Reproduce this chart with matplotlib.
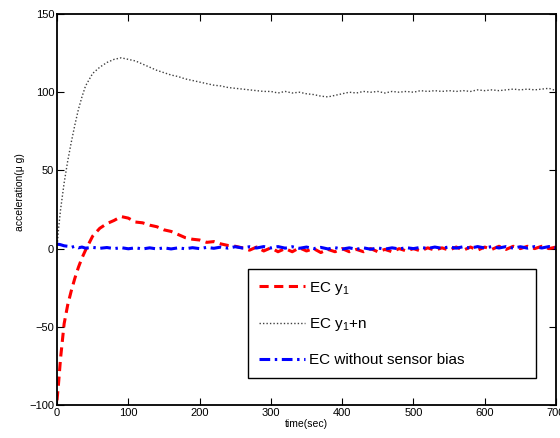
import numpy as np
import matplotlib
matplotlib.use("Agg")
import matplotlib.pyplot as plt

plt.rcParams["font.family"] = ["Liberation Sans", "DejaVu Sans"]
plt.rcParams["mathtext.fontset"] = "custom"
plt.rcParams["mathtext.rm"] = "Liberation Sans"
plt.rcParams["mathtext.it"] = "Liberation Sans"

# time axis (s): denser at the start where curves rise fast
time_sec = [0, 2, 5, 10, 15, 20, 25, 30, 35, 40] + list(range(50, 701, 10))

ec_y1 = [-97, -87, -70, -48, -36, -27, -19, -12, -6, -1,
         8, 13, 16, 18, 20.5, 19.5, 17, 16.5, 15, 14,
         12, 11, 9, 7, 6, 5.5, 4, 4.5, 3, 2,
         1.5, 0.5, -1, 1, -1.5, 0.5, -2, 0, -2, 0.5,
         -1.5, 0, -2.5, -0.5, -2, 0, -2, -0.5, -2, 0,
         -2, -0.5, -2, 0, -1.5, 0, -1.5, 0.5, -1, 0.5,
         -1, 1, -1, 1, -1, 1, -0.5, 1.5, -0.5, 1.5,
         0, 1.5, 0, 1.5, 0, 1]

ec_y1_n = [0, 12, 25, 42, 56, 68, 79, 89, 97, 104,
           112, 116, 119, 121, 122, 121, 120, 118, 116, 114,
           112.5, 111, 110, 108.5, 107.5, 106.5, 105.5, 104.5, 104, 103,
           102.5, 102, 101.5, 101, 100.5, 100.5, 99.5, 100.5, 99.5, 100,
           99, 98.5, 97.5, 97, 98, 99, 100, 99.5, 100.5, 100,
           100.5, 99.5, 100.5, 100, 100.5, 100, 101, 100.5, 101, 100.5,
           101, 100.5, 101, 100.5, 101.5, 101, 101.5, 101, 101.5, 102,
           101.5, 102, 101.5, 102, 102.5, 101]

ec_no_bias = [2.5, 2.8, 2.5, 1.8, 1.5, 0.8, 1.5, 0.5, 1.0, 0.3,
              0.8, 0.2, 0.7, 0.0, 0.6, -0.1, 0.5, -0.2, 0.5, -0.2,
              0.5, -0.2, 0.5, -0.1, 0.6, 0, 0.8, 0.2, 1.0, 0.3,
              1.2, 0.4, 1.2, 0.4, 1.3, 0.4, 1.3, 0.3, 1.2, 0.2,
              1.0, 0.0, 0.8, -0.2, 0.6, -0.3, 0.5, -0.4, 0.5, -0.4,
              0.4, -0.3, 0.5, -0.2, 0.6, 0, 0.8, 0.1, 1.0, 0.2,
              1.1, 0.3, 1.2, 0.3, 1.3, 0.4, 1.3, 0.4, 1.3, 0.3,
              1.2, 0.3, 1.3, 0.4, 1.3, 0.5]

labels = ["EC y$_1$", "EC y$_1$+n", "EC without sensor bias"]

fig = plt.figure(figsize=(5.6, 4.38), dpi=100)
ax = fig.add_axes([0.1018, 0.0753, 0.8911, 0.8927])

ax.plot(time_sec, ec_y1, color="red", linestyle=(0, (3, 1.8)), lw=2.2, label=labels[0])
ax.plot(time_sec, ec_y1_n, color="0.25", linestyle=(0, (1, 1.5)), lw=1.0, label=labels[1])
ax.plot(time_sec, ec_no_bias, color="blue", linestyle=(0, (3.5, 1.5, 0.8, 1.5)), lw=2.2,
        label=labels[2])

ax.set_xlim(0, 700)
ax.set_ylim(-100, 150)
ax.set_xticks(np.arange(0, 701, 100))
ax.set_yticks(np.arange(-100, 151, 50))
ax.tick_params(direction="in", top=True, right=True, length=5, width=0.8,
               labelsize=8, pad=2)
for sp in ax.spines.values():
    sp.set_linewidth(1.3)

ax.set_xlabel("time(sec)", fontsize=7.5, labelpad=1)
ax.set_ylabel("acceleration(\u03bc g)", fontsize=7.5)
ax.yaxis.set_label_coords(-0.064, 0.545)

# MATLAB-style legend box with wide right margin
leg = ax.legend(loc="lower left", bbox_to_anchor=(0.383, 0.069, 0.577, 0.276),
                mode="expand", fontsize=11, handlelength=3.0, handletextpad=0.3,
                labelspacing=1.3, borderpad=0.7, borderaxespad=0,
                fancybox=False, framealpha=1, edgecolor="black")
leg.get_frame().set_linewidth(1.0)

fig.savefig("out.png", dpi=100)
